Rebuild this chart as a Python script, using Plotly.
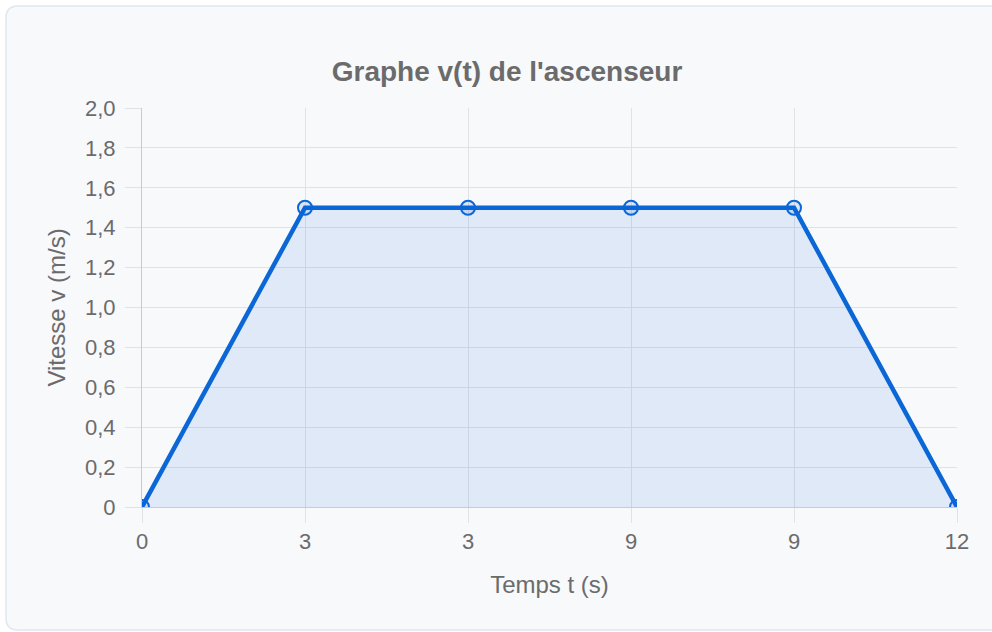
import plotly.graph_objects as go

# Data
time_labels = ["0", "3", "3", "9", "9", "12"]
speed_values = [0, 1.5, 1.5, 1.5, 1.5, 0]
y_tick_values = [0, 0.2, 0.4, 0.6, 0.8, 1.0, 1.2, 1.4, 1.6, 1.8, 2.0]
y_tick_labels = ["0", "0,2", "0,4", "0,6", "0,8", "1,0", "1,2", "1,4", "1,6", "1,8", "2,0"]

x_positions = list(range(len(time_labels)))

W, H = 992, 632
ML, MR, MT, MB = 142, 35, 108, 125
PW = W - ML - MR
PH = H - MT - MB

def px_to_paper_x(px):
    return (px - ML) / PW

def px_to_paper_y(py):
    return (H - MB - py) / PH

line_color = "#0b66d6"
grid_color = "#e0e2e5"
text_color = "#6b6b6b"
font_family = "Liberation Sans, Arial, sans-serif"

fig = go.Figure()
fig.add_trace(go.Scatter(
    x=x_positions,
    y=speed_values,
    mode="lines+markers",
    line=dict(color=line_color, width=4.5),
    fill="tozeroy",
    fillcolor="rgba(11,102,214,0.10)",
    marker=dict(size=14, color="rgba(11,102,214,0.12)",
                line=dict(color=line_color, width=2)),
    hoverinfo="x+y",
    showlegend=False,
))

# Card background with rounded corners
x0, x1 = px_to_paper_x(6), px_to_paper_x(1010)
y0, y1 = px_to_paper_y(630), px_to_paper_y(6)
rx, ry = 12 / PW, 12 / PH
path = (f"M {x0+rx},{y1} L {x1-rx},{y1} Q {x1},{y1} {x1},{y1-ry} "
        f"L {x1},{y0+ry} Q {x1},{y0} {x1-rx},{y0} L {x0+rx},{y0} "
        f"Q {x0},{y0} {x0},{y0+ry} L {x0},{y1-ry} Q {x0},{y1} {x0+rx},{y1} Z")
fig.add_shape(type="path", path=path, xref="paper", yref="paper",
              fillcolor="#f8f9fb", line=dict(color="#e1e7ef", width=1.5),
              layer="below")

fig.update_layout(
    width=W, height=H,
    margin=dict(l=ML, r=MR, t=MT, b=MB, pad=0),
    paper_bgcolor="white",
    plot_bgcolor="rgba(0,0,0,0)",
    font=dict(family=font_family, color=text_color, size=22),
    title=dict(text="<b>Graphe v(t) de l'ascenseur</b>",
               x=507 / W, xanchor="center", xref="container",
               y=1 - 71 / H, yanchor="middle", yref="container",
               font=dict(size=28, color=text_color, family=font_family)),
    xaxis=dict(
        tickmode="array", tickvals=x_positions, ticktext=time_labels,
        range=[0, len(time_labels) - 1],
        showgrid=True, gridcolor=grid_color, gridwidth=1,
        ticks="outside", ticklen=15, tickcolor=grid_color, tickwidth=1,
        showline=True, linecolor="#c9cbce", linewidth=1,
        zeroline=False,
        tickfont=dict(size=22, color=text_color),
        title=dict(text="Temps t (s)", font=dict(size=24, color=text_color), standoff=22),
    ),
    yaxis=dict(
        tickmode="array", tickvals=y_tick_values, ticktext=y_tick_labels,
        range=[0, 2.0],
        showgrid=True, gridcolor=grid_color, gridwidth=1,
        ticks="outside", ticklen=16, tickcolor=grid_color, tickwidth=1,
        showline=True, linecolor="#c9cbce", linewidth=1,
        zeroline=False,
        ticklabelstandoff=5,
        tickfont=dict(size=22, color=text_color),
        title=dict(text="Vitesse v (m/s)", font=dict(size=24, color=text_color), standoff=12),
    ),
)

fig.write_html("out.html", config={"displayModeBar": False},
               post_script="document.body.style.margin='0';")
